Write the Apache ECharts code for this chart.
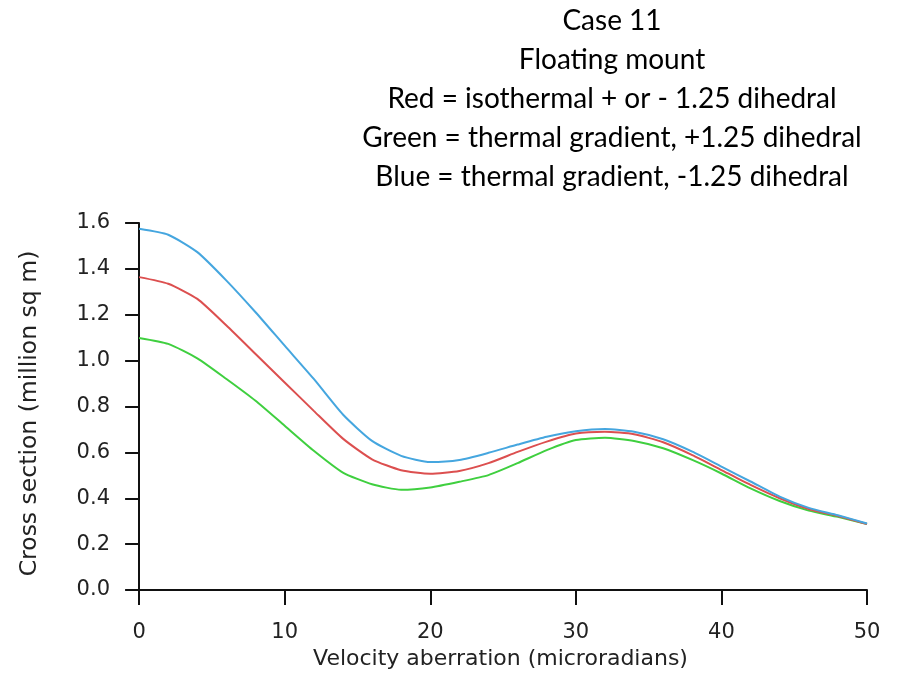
<!DOCTYPE html>
<html>
<head>
<meta charset="utf-8">
<title>Case 11 - Floating mount</title>
<script src="https://cdn.jsdelivr.net/npm/echarts/dist/echarts.min.js"></script>
<style>
    body { margin: 0; background: #fff; }
    #chart { width: 903px; height: 679px; }
</style>
</head>
<body>
<div id="chart"></div>
<script>
// datos (cada 2 microradianes)
const velocidad = [0, 2, 4, 6, 8, 10, 12, 14, 16, 18, 20, 22, 24, 26, 28, 30, 32, 34, 36, 38, 40, 42, 44, 46, 48, 50];
const rojo = [1.364, 1.335, 1.269, 1.153, 1.029, 0.905, 0.781, 0.660, 0.570, 0.522, 0.507, 0.519, 0.553,
    0.602, 0.647, 0.682, 0.690, 0.679, 0.644, 0.588, 0.523, 0.458, 0.400, 0.353, 0.323, 0.288];
const verde = [1.099, 1.073, 1.010, 0.920, 0.825, 0.716, 0.607, 0.512, 0.461, 0.437, 0.447, 0.472, 0.501,
    0.553, 0.610, 0.654, 0.664, 0.650, 0.618, 0.567, 0.508, 0.443, 0.388, 0.346, 0.319, 0.288];
const azul = [1.575, 1.549, 1.473, 1.349, 1.211, 1.065, 0.920, 0.765, 0.650, 0.585, 0.558, 0.567, 0.598,
    0.634, 0.668, 0.692, 0.702, 0.690, 0.657, 0.603, 0.538, 0.473, 0.407, 0.358, 0.326, 0.290];
const marcasX = [0, 10, 20, 30, 40, 50];
const titulo = [
    'Case 11',
    'Floating mount',
    'Red = isothermal + or - 1.25 dihedral',
    'Green = thermal gradient, +1.25 dihedral',
    'Blue = thermal gradient, -1.25 dihedral'
];

function pares(valores) {
    return velocidad.map((x, i) => [x, valores[i]]);
}

function serie(nombre, valores, color) {
    return {
        name: nombre,
        type: 'line',
        data: pares(valores),
        showSymbol: false,
        smooth: 0.2,
        lineStyle: { color: color, width: 2 },
        itemStyle: { color: color }
    };
}

function getOption() {
    const fuenteEje = 'DejaVu Sans';
    return {
        animation: false,
        backgroundColor: '#fff',
        graphic: [{
            type: 'text',
            x: 612,
            y: 1,
            style: {
                text: titulo.join('\n'),
                font: '28px Lato',
                fill: '#000',
                align: 'center',
                verticalAlign: 'top',
                lineHeight: 39
            }
        }],
        grid: { left: 134, right: 36, top: 223, bottom: 89 },
        xAxis: {
            type: 'value',
            min: -0.35,
            max: 50,
            name: 'Velocity aberration (microradians)',
            nameLocation: 'middle',
            nameGap: 56,
            nameTextStyle: { fontFamily: fuenteEje, fontSize: 22, color: '#222' },
            axisLine: { onZero: false, lineStyle: { color: '#111', width: 2 } },
            axisTick: { customValues: marcasX, length: 15, lineStyle: { color: '#111', width: 2 } },
            axisLabel: { customValues: marcasX, margin: 32, fontFamily: fuenteEje, fontSize: 21, color: '#222' },
            splitLine: { show: false }
        },
        yAxis: {
            type: 'value',
            min: 0,
            max: 1.6,
            interval: 0.2,
            name: 'Cross section (million sq m)',
            nameLocation: 'middle',
            nameGap: 92,
            // padding a la derecha para bajar un poco el titulo girado
            nameTextStyle: { fontFamily: fuenteEje, fontSize: 23.5, color: '#222', padding: [0, 14, 0, 0] },
            axisLine: { show: true, lineStyle: { color: '#111', width: 2 } },
            axisTick: { show: true, length: 14, lineStyle: { color: '#111', width: 2 } },
            axisLabel: {
                margin: 24,
                fontFamily: fuenteEje,
                fontSize: 21,
                color: '#222',
                formatter: v => v.toFixed(1)
            },
            splitLine: { show: false }
        },
        series: [
            serie('Green', verde, '#3fcf3f'),
            serie('Red', rojo, '#dc4f4f'),
            serie('Blue', azul, '#45a6df')
        ]
    };
}

const chart = echarts.init(document.getElementById('chart'));
chart.setOption(getOption());
</script>
</body>
</html>
